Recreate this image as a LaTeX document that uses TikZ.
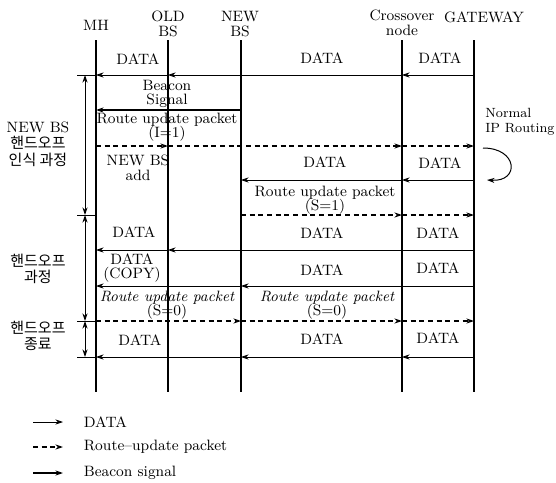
\documentclass[tikz,border=0pt]{standalone}
\usepackage{fontspec}
\newfontfamily\kr{Noto Sans CJK KR}
\usetikzlibrary{arrows.meta}

\begin{document}
\begin{tikzpicture}[x=0.6pt, y=-0.6pt, >={Stealth[length=4.5pt, width=3pt]},
  font=\fontsize{9}{8.7}\selectfont,
  life/.style={line width=0.9pt},
  data/.style={->, line width=0.45pt},
  route/.style={->, line width=0.7pt, dash pattern=on 3pt off 2.2pt},
  beacon/.style={->, line width=0.8pt},
  tick/.style={line width=0.6pt},
  lbl/.style={align=center, inner sep=0pt},
  side/.style={align=center, inner sep=0pt, font=\fontsize{9}{10}\selectfont}]
  \useasboundingbox (0,0) rectangle (556,483);
  % Định nghĩa các điểm
  \coordinate (MH) at (96,40);
  \coordinate (OB) at (168,40);
  \coordinate (NB) at (241,40);
  \coordinate (CN) at (402,40);
  \coordinate (GW) at (474,40);
  \coordinate (Bot) at (0,392);
  \coordinate (BR) at (85,0);
  \coordinate (TK) at (77,0);
  \coordinate (R1) at (0,75);
  \coordinate (R2) at (0,110);
  \coordinate (R3) at (0,146);
  \coordinate (R4) at (0,180);
  \coordinate (R5) at (0,215);
  \coordinate (R6) at (0,250);
  \coordinate (R7) at (0,286);
  \coordinate (R8) at (0,321);
  \coordinate (R9) at (0,357);
  % 1. Tiêu đề các cột
  \node (tMH) at (96,25) {MH};
  \node[lbl] (tOB) at (168,24) {OLD\\BS};
  \node[lbl] (tNB) at (240,24) {NEW\\BS};
  \node[lbl] (tCN) at (402,23) {Crossover\\node};
  \node (tGW) at (484,17) {GATEWAY};
  % 2. Các đường thẳng đứng
  \draw[life] (MH) -- (MH |- Bot);
  \draw[life] (OB) -- (OB |- Bot);
  \draw[life] (NB) -- (NB |- Bot);
  \draw[life] (CN) -- (CN |- Bot);
  \draw[life] (GW) -- (GW |- Bot);
  % 3. Ngoặc bên trái
  \draw[tick] (TK |- R1) -- (MH |- R1);
  \draw[tick] (TK |- R5) -- (MH |- R5);
  \draw[tick] (TK |- R8) -- (MH |- R8);
  \draw[tick] (TK |- R9) -- (MH |- R9);
  \draw[tick, <->] (BR |- R1) -- (BR |- R5);
  \draw[tick, <->] (BR |- R5) -- (BR |- R8);
  \draw[tick, <->] (BR |- R8) -- (BR |- R9);
  \node[side] (sNew) at (38,144) {NEW BS\\{\kr 핸드오프}\\{\kr 인식 과정}};
  \node[side] (sHo) at (38,269) {{\kr 핸드오프}\\{\kr 과정}};
  \node[side] (sEnd) at (38,336) {{\kr 핸드오프}\\{\kr 종료}};
  % 4. Hàng 1: DATA
  \draw[data] (GW |- R1) -- (CN |- R1);
  \draw[data] (CN |- R1) -- (OB |- R1);
  \draw[data] (OB |- R1) -- (MH |- R1);
  \node (d1a) at (138,59) {DATA};
  \node (d1b) at (322,58) {DATA};
  \node (d1c) at (440,58) {DATA};
  % 5. Hàng 2: Beacon signal
  \draw[beacon] (NB |- R2) -- (MH |- R2);
  \node[lbl] (bs) at (167,94) {Beacon\\Signal};
  % 6. Hàng 3: Route update packet (I=1)
  \draw[route] (MH |- R3) -- (OB |- R3);
  \draw[route] (OB |- R3) -- (CN |- R3);
  \draw[route] (CN |- R3) -- (GW |- R3);
  \node[lbl] (ru1) at (167,127) {Route update packet\\(I=1)};
  \node[lbl, align=left, anchor=west, font=\fontsize{8}{9}\selectfont] (nip) at (485,122) {Normal\\IP Routing};
  \coordinate (C1) at (483,148);
  \coordinate (C2) at (487,180);
  \draw[->, line width=0.6pt] (C1) .. controls (518,148) and (520,182) .. (C2);
  % 7. Hàng 4: DATA
  \node[lbl] (add) at (138,168) {NEW BS\\add};
  \draw[data] (GW |- R4) -- (CN |- R4);
  \draw[data] (CN |- R4) -- (NB |- R4);
  \node (d4b) at (325,162) {DATA};
  \node (d4c) at (440,163) {DATA};
  % 8. Hàng 5: Route update packet (S=1)
  \draw[route] (NB |- R5) -- (CN |- R5);
  \draw[route] (CN |- R5) -- (GW |- R5);
  \node[lbl] (ru2) at (325,200) {Route update packet\\(S=1)};
  % 9. Hàng 6: DATA
  \draw[data] (GW |- R6) -- (OB |- R6);
  \draw[data] (OB |- R6) -- (MH |- R6);
  \node (d6a) at (134,232) {DATA};
  \node (d6b) at (322,233) {DATA};
  \node (d6c) at (438,233) {DATA};
  % 10. Hàng 7: DATA (COPY)
  \draw[data] (GW |- R7) -- (NB |- R7);
  \draw[data] (NB |- R7) -- (MH |- R7);
  \node[lbl] (cp) at (132,268) {DATA\\(COPY)};
  \node (d7b) at (322,270) {DATA};
  \node (d7c) at (438,268) {DATA};
  % 11. Hàng 8: Route update packet (S=0)
  \draw[route] (MH |- R8) -- (NB |- R8);
  \draw[route] (NB |- R8) -- (CN |- R8);
  \draw[route] (CN |- R8) -- (GW |- R8);
  \node[lbl] (ru3) at (167,305) {\itshape Route update packet\\(S=0)};
  \node[lbl] (ru4) at (327,305) {\itshape Route update packet\\(S=0)};
  % 12. Hàng 9: DATA
  \draw[data] (GW |- R9) -- (CN |- R9);
  \draw[data] (CN |- R9) -- (NB |- R9);
  \draw[data] (NB |- R9) -- (MH |- R9);
  \node (d9a) at (140,340) {DATA};
  \node (d9b) at (322,339) {DATA};
  \node (d9c) at (438,338) {DATA};
  % 13. Chú thích
  \coordinate (L1a) at (33,422);
  \coordinate (L1b) at (63,422);
  \coordinate (L2a) at (33,447);
  \coordinate (L2b) at (63,447);
  \coordinate (L3a) at (33,473);
  \coordinate (L3b) at (63,473);
  \draw[data] (L1a) -- (L1b);
  \draw[route] (L2a) -- (L2b);
  \draw[beacon] (L3a) -- (L3b);
  \node[anchor=west] (k1) at (78,422) {DATA};
  \node[anchor=west] (k2) at (78,447) {Route\textendash update packet};
  \node[anchor=west] (k3) at (78,473) {Beacon signal};
\end{tikzpicture}
\end{document}
